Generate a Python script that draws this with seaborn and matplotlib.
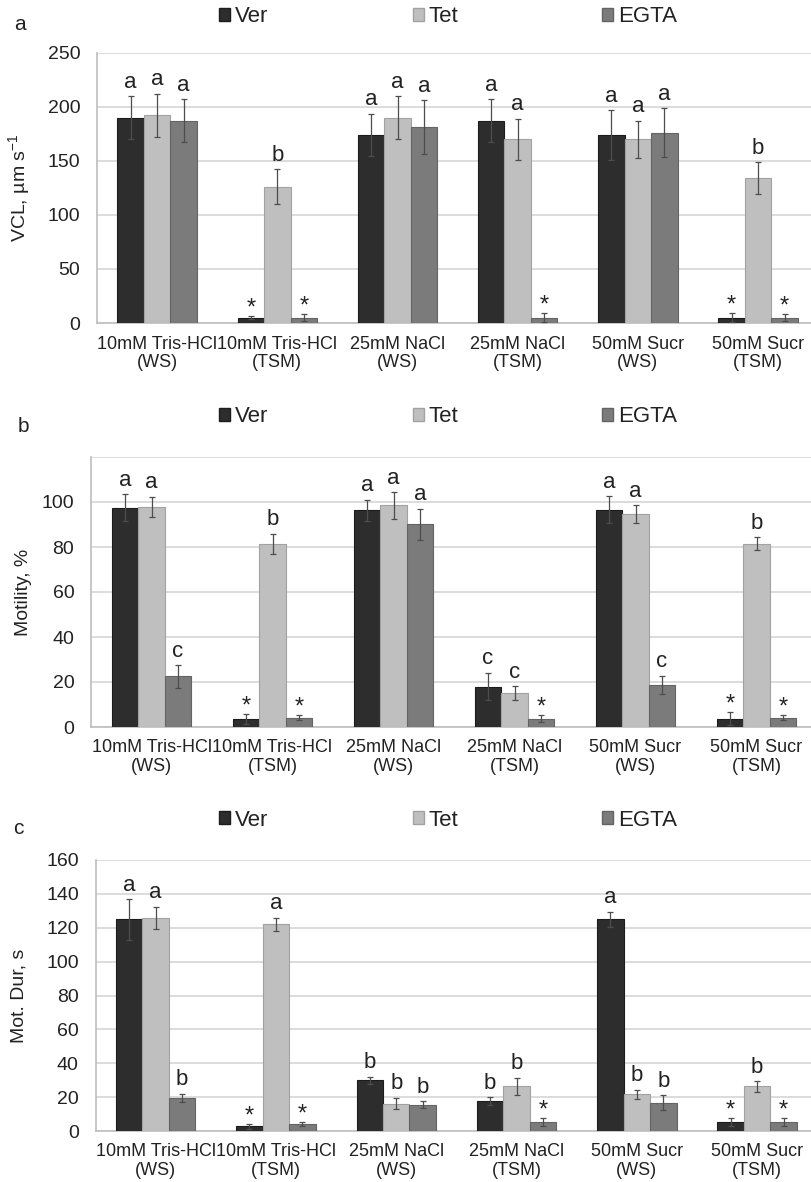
import numpy as np
import pandas as pd
import matplotlib
matplotlib.use("Agg")
import matplotlib.pyplot as plt
from matplotlib.patches import Patch
import seaborn as sns

# categories and groups
conditions = ["10mM Tris-HCl\n(WS)", "10mM Tris-HCl\n(TSM)", "25mM NaCl\n(WS)",
              "25mM NaCl\n(TSM)", "50mM Sucr\n(WS)", "50mM Sucr\n(TSM)"]
treatments = ["Ver", "Tet", "EGTA"]

# panel a: VCL
vcl_ver = [190, 5, 174, 187, 174, 5]
vcl_ver_err = [20, 1.5, 19.5, 20, 23, 4.5]
vcl_tet = [192, 126, 190, 170, 170, 134]
vcl_tet_err = [20, 16, 20, 19, 17, 15]
vcl_egta = [187, 5, 181, 5, 176, 5]
vcl_egta_err = [20, 3.5, 25, 4.5, 22.5, 3.5]
vcl_ver_lab = ["a", "*", "a", "a", "a", "*"]
vcl_tet_lab = ["a", "b", "a", "a", "a", "b"]
vcl_egta_lab = ["a", "*", "a", "*", "a", "*"]

# panel b: motility
mot_ver = [97.5, 3.7, 96.3, 18, 96.5, 3.7]
mot_ver_err = [6, 2.2, 4.7, 6.2, 6, 2.8]
mot_tet = [97.8, 81.5, 98.5, 15.2, 94.5, 81.5]
mot_tet_err = [4.5, 4.5, 6, 3, 4, 3]
mot_egta = [22.5, 4.1, 90.1, 3.7, 18.8, 4.1]
mot_egta_err = [5, 1.2, 7, 1.6, 4, 1.2]
mot_ver_lab = ["a", "*", "a", "c", "a", "*"]
mot_tet_lab = ["a", "b", "a", "c", "a", "b"]
mot_egta_lab = ["c", "*", "a", "*", "c", "*"]

# panel c: motility duration
dur_ver = [125, 2.8, 30, 17.7, 125, 5.3]
dur_ver_err = [12, 1.5, 2, 2.4, 4.5, 2.2]
dur_tet = [126, 122, 16.2, 26.4, 21.7, 26.4]
dur_tet_err = [6.5, 4, 3.5, 5, 2.7, 3.2]
dur_egta = [19.5, 4.3, 15.6, 5.3, 16.7, 5.3]
dur_egta_err = [2.5, 1.2, 2.1, 2.6, 4.4, 2.2]
dur_ver_lab = ["a", "*", "b", "b", "a", "*"]
dur_tet_lab = ["a", "a", "b", "b", "b", "b"]
dur_egta_lab = ["b", "*", "b", "*", "b", "*"]

colors = ["#2d2d2d", "#bfbfbf", "#7b7b7b"]
edges = ["#1c1c1c", "#a2a2a2", "#646464"]
grid_c = "#d9d9d9"
axis_c = "#bdbdbd"
text_c = "#222222"

sns.set_style("white")
plt.rcParams["font.family"] = ["Liberation Sans", "DejaVu Sans"]

fig = plt.figure(figsize=(8.11, 11.82), dpi=100)
W, H = 811, 1182

panels = [
    dict(letter="a", ylabel="VCL, µm s$^{\\mathregular{-1}}$",
         vals=[vcl_ver, vcl_tet, vcl_egta], errs=[vcl_ver_err, vcl_tet_err, vcl_egta_err],
         labs=[vcl_ver_lab, vcl_tet_lab, vcl_egta_lab],
         left=97, top=52.7, bottom=323, cat_w=120.2, ymax=250, step=50, label_max=250,
         ylab_x=33, letter_xy=(20, 24), leg_y=17),
    dict(letter="b", ylabel="Motility, %",
         vals=[mot_ver, mot_tet, mot_egta], errs=[mot_ver_err, mot_tet_err, mot_egta_err],
         labs=[mot_ver_lab, mot_tet_lab, mot_egta_lab],
         left=91, top=457, bottom=727, cat_w=121, ymax=120, step=20, label_max=100,
         ylab_x=32, letter_xy=(23, 426), leg_y=417),
    dict(letter="c", ylabel="Mot. Dur, s",
         vals=[dur_ver, dur_tet, dur_egta], errs=[dur_ver_err, dur_tet_err, dur_egta_err],
         labs=[dur_ver_lab, dur_tet_lab, dur_egta_lab],
         left=95.5, top=860, bottom=1131, cat_w=120.3, ymax=160, step=20, label_max=160,
         ylab_x=28, letter_xy=(18, 828), leg_y=820),
]

for p in panels:
    ax = fig.add_axes([p["left"] / W, 1 - p["bottom"] / H,
                       1 - p["left"] / W, (p["bottom"] - p["top"]) / H])
    rows = []
    for t, v in zip(treatments, p["vals"]):
        for c, val in zip(conditions, v):
            rows.append({"cond": c, "treat": t, "val": val})
    df = pd.DataFrame(rows)

    sns.barplot(data=df, x="cond", y="val", hue="treat", order=conditions,
                hue_order=treatments, palette=colors, saturation=1, width=0.66,
                errorbar=None, legend=False, ax=ax, zorder=3)

    bar_conts = list(ax.containers)
    for i, cont in enumerate(bar_conts):
        for bar, err, lab in zip(cont, p["errs"][i], p["labs"][i]):
            bar.set_edgecolor(edges[i])
            bar.set_linewidth(0.8)
            xc = bar.get_x() + bar.get_width() / 2
            h = bar.get_height()
            ax.errorbar(xc, h, yerr=err, fmt="none", ecolor="#4d4d4d",
                        elinewidth=0.9, capsize=2, capthick=0.9, zorder=4)
            if lab == "*":
                ax.annotate(lab, (xc, h + err), xytext=(0, 1), textcoords="offset points",
                            ha="center", va="baseline", fontsize=17, color=text_c, zorder=5)
            else:
                ax.annotate(lab, (xc, h + err), xytext=(0, 6), textcoords="offset points",
                            ha="center", va="baseline", fontsize=16, color=text_c, zorder=5)

    ax.set_xlim(-0.5, -0.5 + (W - p["left"]) / p["cat_w"])
    ax.set_ylim(0, p["ymax"])
    ticks = np.arange(0, p["ymax"] + 1, p["step"])
    ax.set_yticks(ticks)
    ax.set_yticklabels([str(t) if t <= p["label_max"] else "" for t in ticks])
    ax.yaxis.grid(True, color=grid_c, linewidth=1.3, zorder=0)
    ax.set_axisbelow(True)

    for s in ["top", "right"]:
        ax.spines[s].set_visible(False)
    for s in ["left", "bottom"]:
        ax.spines[s].set_color(axis_c)
        ax.spines[s].set_linewidth(1.2)

    ax.tick_params(axis="y", length=5, width=1.2, color=axis_c, pad=7,
                   labelsize=14, labelcolor=text_c)
    ax.tick_params(axis="x", which="major", length=0, pad=9,
                   labelsize=13, labelcolor=text_c)
    ax.set_xticks(np.arange(0.5, 5.5, 1), minor=True)
    ax.tick_params(axis="x", which="minor", length=5, width=1.2, color=axis_c)
    for lbl in ax.get_xticklabels():
        lbl.set_linespacing(1.1)

    ax.set_xlabel("")
    ax.set_ylabel(p["ylabel"], fontsize=14, color=text_c)
    ax.yaxis.set_label_coords((p["ylab_x"] - p["left"]) / (W - p["left"]), 0.5)

    fig.text(p["letter_xy"][0] / W, 1 - p["letter_xy"][1] / H, p["letter"],
             fontsize=15, color=text_c, ha="center", va="center")

    handles = [Patch(facecolor=colors[i], edgecolor=edges[i], label=treatments[i])
               for i in range(3)]
    fig.legend(handles=handles, loc="center", ncol=3, frameon=False,
               bbox_to_anchor=(448 / W, 1 - p["leg_y"] / H), fontsize=16,
               handlelength=0.5, handleheight=0.5, handletextpad=0.2,
               columnspacing=6.5, labelcolor=text_c)

fig.savefig("out.png", dpi=100)
